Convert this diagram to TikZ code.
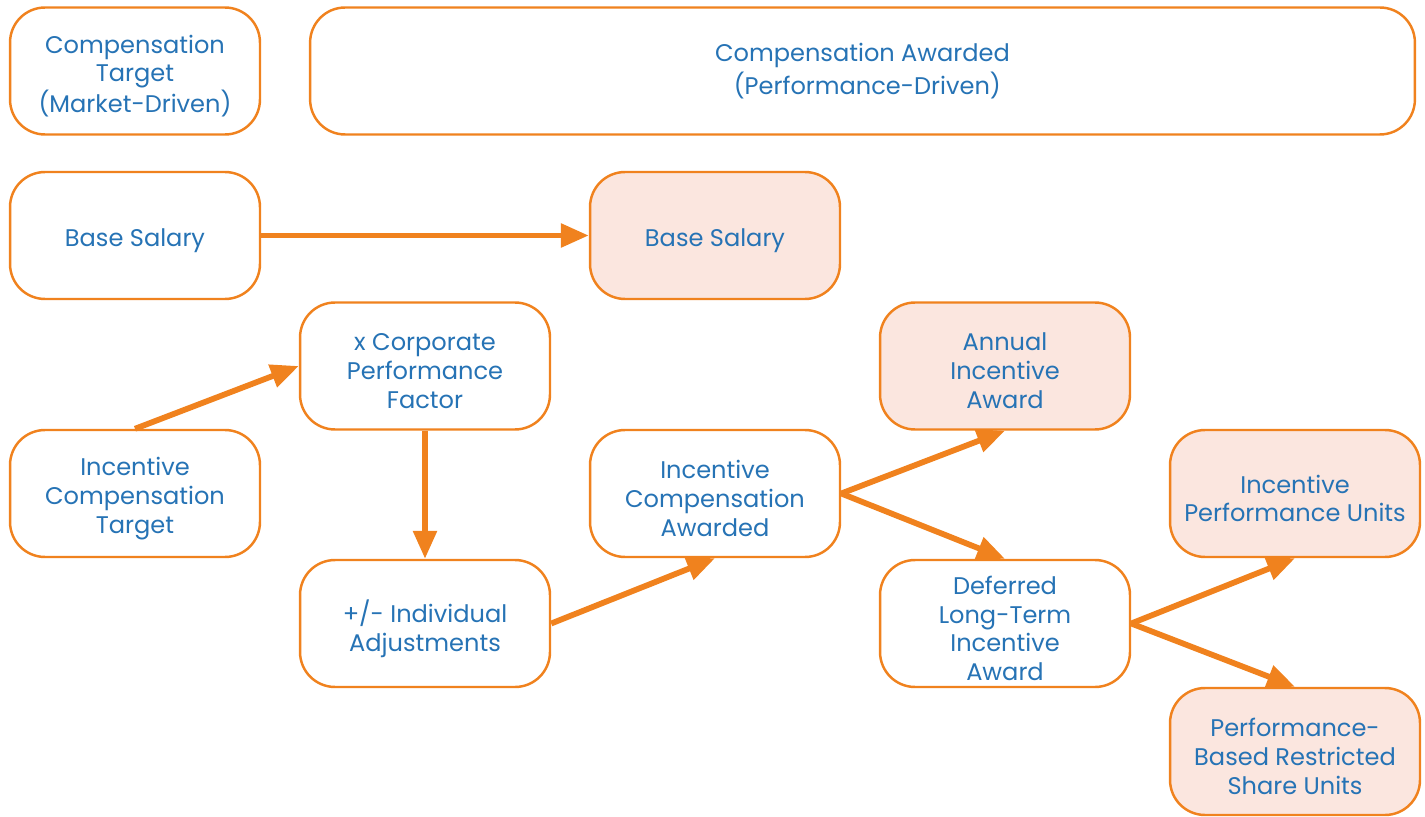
\documentclass[tikz,border=0pt]{standalone}
\usepackage{fontspec}
\setmainfont{Poppins}
\usetikzlibrary{arrows.meta}
\definecolor{borange}{HTML}{F0821E}
\definecolor{bfill}{HTML}{FBE6DF}
\definecolor{btext}{HTML}{2673B5}
\tikzset{
  box/.style={draw=borange, line width=1.4pt, rounded corners=0.7cm, fill=white,
    minimum width=5cm, minimum height=2.54cm, inner sep=0pt},
  hbox/.style={box, fill=bfill},
  lbl/.style={align=center, text=btext, font=\fontsize{13.7}{16.4}\selectfont,
    yshift=-0.1cm, inner sep=0pt},
  flow/.style={draw=borange, line width=3.3pt, -{Triangle[length=0.56cm,width=0.46cm]}}
}
\begin{document}
\begin{tikzpicture}[x=0.02cm,y=-0.02cm]
\useasboundingbox (0,0) rectangle (1425,817);
\node[box, label={[lbl]center:{Compensation\\Target\\(Market-Driven)}}] (ct) at (135,71) {};
\node[box, minimum width=22.1cm, label={[lbl, yshift=0.1cm]center:{Compensation Awarded\\[0.1cm]\hspace{0.4em}(Performance-Driven)}}] (ca) at (862.5,71) {};
\node[box, label={[lbl]center:{Base Salary}}] (bs1) at (135,235.5) {};
\node[hbox, label={[lbl]center:{Base Salary}}] (bs2) at (715,235.5) {};
\node[box, label={[lbl]center:{x Corporate\\Performance\\Factor}}] (cpf) at (425,366) {};
\node[box, label={[lbl]center:{Incentive\\Compensation\\Target}}] (ict) at (135,493.5) {};
\node[box, label={[lbl]center:{+/- Individual\\Adjustments}}] (ia) at (425,623.5) {};
\node[box, label={[lbl]center:{Incentive\\Compensation\\Awarded}}] (ica) at (715,493.5) {};
\node[hbox, label={[lbl]center:{Annual\\Incentive\\Award}}] (aia) at (1005,366) {};
\node[box, label={[lbl]center:{Deferred\\Long-Term\\Incentive\\Award}}] (dlti) at (1005,623.5) {};
\node[hbox, label={[lbl]center:{Incentive\\Performance Units}}] (ipu) at (1295,493.5) {};
\node[hbox, label={[lbl]center:{Performance-\\Based Restricted\\Share Units}}] (pb) at (1295,751.5) {};
\draw[flow] (bs1.east) -- (bs2.west);
\draw[flow] (ict.north) -- (cpf.west);
\draw[flow] (cpf.south) -- (ia.north);
\draw[flow] (ia.east) -- (ica.south);
\draw[flow] (ica.east) -- (aia.south);
\draw[flow] (ica.east) -- (dlti.north);
\draw[flow] (dlti.east) -- (ipu.south);
\draw[flow] (dlti.east) -- (pb.north);
\end{tikzpicture}
\end{document}
